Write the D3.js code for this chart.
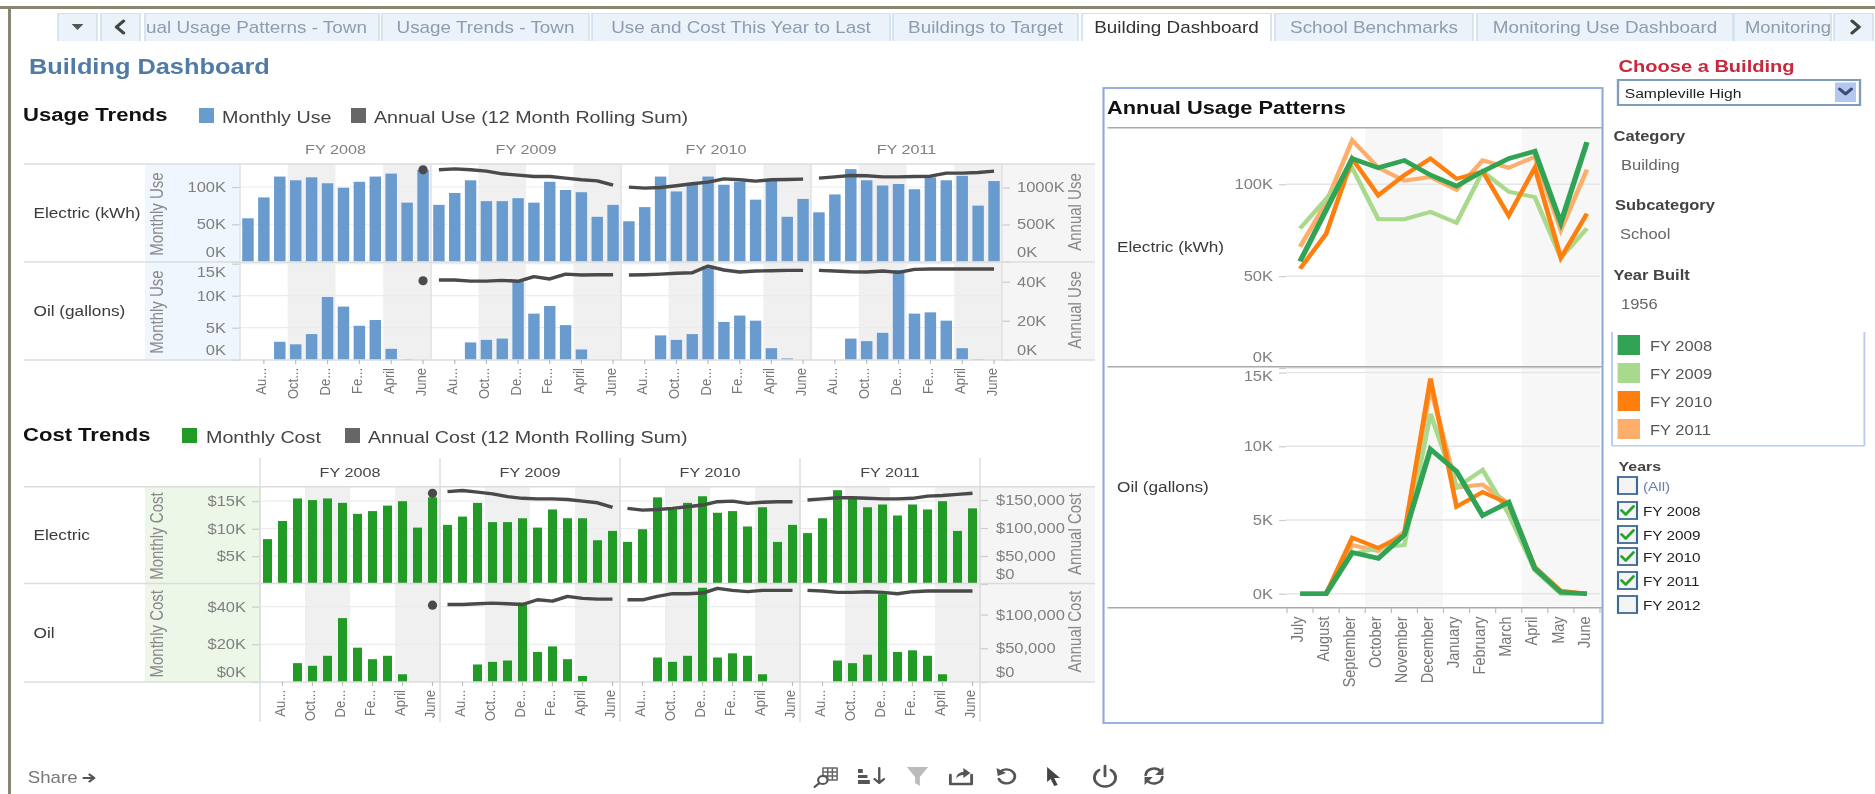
<!DOCTYPE html>
<html><head><meta charset="utf-8"><title>Building Dashboard</title>
<script src="https://cdn.jsdelivr.net/npm/d3@7/dist/d3.min.js"></script>
<style>html,body{margin:0;padding:0;background:#fff;overflow:hidden}svg{display:block;filter:blur(.55px);font-family:"Liberation Sans",Arial,sans-serif}</style>
</head><body><svg id="c" width="1875" height="794"></svg>
<script>
// ---------- data ----------
const fiscalYears = ["FY 2008","FY 2009","FY 2010","FY 2011"];
const monthsFull = ["July","August","September","October","November","December","January","February","March","April","May","June"];
const monthTicks = ["Au...","Oct...","De...","Fe...","April","June"];
const electricUse = [
 [58,86,114,109,113,105,99,107,114,118,79,123],
 [76,92,109,81,81,85,79,107,96,93,60,76],
 [54,73,114,94,105,114,103,107,83,109,60,84],
 [66,90,124,109,102,104,97,113,109,115,75,108]];
const oilUse = [
 [0,0,2.8,2.4,4,9.8,8.3,5.3,6.2,1.7,0.1,0],
 [0,0,2.7,3.1,3.3,12.2,7.2,8.4,5.4,1.6,0,0],
 [0,0,3.8,3.1,4,14.6,5.9,6.9,6.1,1.8,0.2,0],
 [0,0,3.3,2.9,4.2,14,7.2,7.4,6.1,1.8,0.1,0]];
const electricAnnual = [
 [null,null,null,null,null,null,null,null,null,null,null,1239],
 [1239,1252,1239,1221,1185,1167,1149,1149,1126,1104,1090,1032],
 [1005,991,1000,1023,1050,1072,1117,1104,1086,1104,1108,1113],
 [1126,1144,1162,1158,1144,1144,1149,1153,1194,1194,1203,1221]];
const oilAnnual = [
 [null,null,null,null,null,null,null,null,null,null,null,40.5],
 [40.9,40.9,40.3,40.3,40.7,40.2,42.6,41.4,43.9,43.4,43.6,43.6],
 [43.4,43.6,43.9,44.3,44.6,48,46,45,45.5,45.6,45.8,45.8],
 [45.8,45.5,45.1,45,45.5,44.8,46.3,46.5,46.5,46.5,46.5,46.5]];
const electricCost = [
 [8.1,11.4,15.5,15.2,15.5,14.7,12.7,13.2,14.2,15,10.2,15.7],
 [10.7,12.2,14.7,11.2,11.2,11.9,10.2,13.5,11.9,11.9,7.9,9.6],
 [7.6,9.9,15.7,13.5,14.7,15.9,12.9,13.2,10.4,13.9,7.6,10.7],
 [9.2,11.9,17,15.5,13.9,14.4,12.4,14.4,13.5,15,9.6,13.7]];
const oilCost = [
 [0,0,10,8.6,13.9,33.9,18.2,12.1,13.9,4.1,0,0],
 [0,0,9.3,10.7,11.4,42.1,15.9,18.9,12.1,3.2,0,0],
 [0,0,13,10.7,13.9,50,13,15.2,13.9,4.1,0,0],
 [0,0,11.4,10,14.5,46.6,15.9,16.8,13.9,4.1,0,0]];
const electricCostAnnual = [
 [null,null,null,null,null,null,null,null,null,null,null,162000],
 [165000,167000,164000,161000,156000,153000,152000,152000,151000,148000,145000,137000],
 [135000,132000,133000,135000,138000,141000,147000,148000,144000,146000,147000,147000],
 [150000,152000,154000,154000,153000,152000,152000,153000,157000,158000,160000,162000]];
const oilCostAnnual = [
 [null,null,null,null,null,null,null,null,null,null,null,114000],
 [115000,115000,116000,117000,116000,115000,122000,120000,127000,124000,123000,123000],
 [122000,122000,127000,131000,131000,132000,139000,136000,134000,136000,136000,136000],
 [136000,135000,133000,133000,134000,133000,131000,134000,135000,135000,135000,135000]];
const tabLabels = ["Usage Trends - Town","Use and Cost This Year to Last","Buildings to Target","Building Dashboard","School Benchmarks","Monitoring Use Dashboard"];
const yearFilter = ["(All)","FY 2008","FY 2009","FY 2010","FY 2011","FY 2012"];
const yearChecked = [false,true,true,true,true,false];
const yearColors = ["#31a354","#a8d98c","#ff7f0e","#fdae6b"];

// ---------- layout helpers ----------
const K = 1.18;                     // the reference is stretched horizontally
const svg = d3.select("#c");
const defs = svg.append("defs");
const root = svg.append("g").attr("transform",`scale(${K},1)`);
const X = v => v/K;
function T(g,x,y,s,o={}){
  const t=g.append("text").text(s)
    .attr("font-size",o.size||14).attr("fill",o.fill||"#555")
    .attr("font-weight",o.weight||"normal").attr("text-anchor",o.anchor||"start")
    .attr("dy",".36em");
  if(o.rotate) t.attr("transform",`translate(${X(x)},${y}) rotate(-90)`);
  else t.attr("x",X(x)).attr("y",y);
  return t;
}
function R(g,x0,y0,x1,y1,fill,stroke,sw){
  return g.append("rect").attr("x",X(x0)).attr("y",y0).attr("width",X(x1-x0)).attr("height",y1-y0)
    .attr("fill",fill||"none").attr("stroke",stroke||"none").attr("stroke-width",sw||0);
}
function L(g,x0,y0,x1,y1,c,w){
  return g.append("line").attr("x1",X(x0)).attr("y1",y0).attr("x2",X(x1)).attr("y2",y1).attr("stroke",c).attr("stroke-width",w||1);
}

// ---------- frame and tabs ----------
R(root,0,6,1875,9,"#8a8573");
R(root,8,6,11,794,"#8a8573");
const tabs=[[382,589],[592,890],[893,1078],[1082,1271],[1275,1473],[1477,1733]];
const tabG=root.append("g");
function tab(x0,x1,active){
  R(tabG,x0,13,x1,41,active?"#fff":"#ebf2f9");
  L(tabG,x0,13,x0,41,"#d3e1ee",1.5);L(tabG,x1,13,x1,41,"#d3e1ee",1.5);L(tabG,x0,13.5,x1,13.5,"#d3e1ee",1.2);
}
tab(58,97);tab(101,140);tab(145,379);tab(1734,1831);tab(1834,1873);
tabLabels.forEach((s,i)=>{const a=i===3;tab(tabs[i][0],tabs[i][1],a);
  T(tabG,(tabs[i][0]+tabs[i][1])/2,27,s,{size:16,anchor:"middle",fill:a?"#333":"#8d9cb0"});});
T(tabG,146,27,"ual Usage Patterns - Town",{size:16,fill:"#8d9cb0"});
T(tabG,1745,27,"Monitoring",{size:15.6,fill:"#8d9cb0"});
function P(g,x,y,d,fill,stroke,w){return g.append("path").attr("transform",`translate(${X(x)},${y})`).attr("d",d)
  .attr("fill",fill||"none").attr("stroke",stroke||"none").attr("stroke-width",w||0).attr("stroke-linecap","round").attr("stroke-linejoin","round");}
P(tabG,77.5,27,"M-5,-3H5L0,3Z","#555");
P(tabG,120,27,"M3,-6L-3,0L3,6",null,"#444",3);
P(tabG,1855,27,"M-2.5,-6L3.5,0L-2.5,6",null,"#444",3);

// ---------- titles ----------
T(root,29,66,"Building Dashboard",{size:21.5,weight:"bold",fill:"#4f7ba6"});

// ---------- trend panels ----------
function legend(title,y,items){
  T(root,23,y-1,title,{size:18.7,weight:"bold",fill:"#111"});
  items.forEach(it=>{R(root,it.x0,y-7,it.x0+15,y+8,it.c);T(root,it.tx,y+1.5,it.s,{size:16.7,fill:"#444"});});
}
legend("Usage Trends",115,[{x0:199,tx:222,c:"#6a9bce",s:"Monthly Use"},{x0:351,tx:374,c:"#666",s:"Annual Use (12 Month Rolling Sum)"}]);
legend("Cost Trends",435,[{x0:182,tx:206,c:"#219a26",s:"Monthly Cost"},{x0:345,tx:368,c:"#666",s:"Annual Cost (12 Month Rolling Sum)"}]);

function trend(c){
  const g=root.append("g");
  const [p0]=c.panes, pEnd=c.panes[4], [rTop,rMid,rBot]=c.rows;
  R(g,145,rTop,p0,rBot,c.axisBg);
  R(g,pEnd,rTop,1095,rBot,"#f5f5f5");
  fiscalYears.forEach((fy,i)=>{
    const a=c.panes[i],b=c.panes[i+1],st=(b-a)/12;
    R(g,a+3*st,rTop,a+6*st,rBot,"#f0f0f0");
    R(g,a+9*st,rTop,b,rBot,"#f0f0f0");
    T(g,(a+b)/2,c.headerY,fy,{size:13.7,anchor:"middle",fill:c.headerFill});
  });
  c.measures.forEach((m,ri)=>{
    const top=ri?rMid:rTop,bot=ri?rBot:rMid;
    const yL=d3.scaleLinear().domain(m.leftRef[0]).range(m.leftRef[1]);
    const yR=d3.scaleLinear().domain(m.rightRef[0]).range(m.rightRef[1]);
    m.leftTicks.forEach(v=>{if(v>0)L(g,p0,yL(v),pEnd,yL(v),"#ececec",1.2);});
    fiscalYears.forEach((fy,i)=>{
      const a=c.panes[i],b=c.panes[i+1];
      const x=d3.scaleBand().domain(d3.range(12)).range([X(a),X(b)]).paddingInner(c.pad).paddingOuter(c.pad/2);
      g.append("g").selectAll("rect").data(m.values[i]).join("rect")
        .attr("x",(d,j)=>x(j)).attr("width",x.bandwidth())
        .attr("y",d=>yL(d)).attr("height",d=>Math.max(0,yL(0)-yL(d))).attr("fill",c.bar);
      const line=d3.line().defined(d=>d!==null).x((d,j)=>x(j)+x.bandwidth()/2).y(d=>yR(d));
      const pts=m.annual[i];
      if(pts.filter(d=>d!==null).length>1)
        g.append("path").attr("d",line(pts)).attr("fill","none").attr("stroke","#4a4a4a").attr("stroke-width",3.4).attr("stroke-linejoin","round");
      else g.selectAll(null).data(pts.map((d,j)=>[d,j]).filter(d=>d[0]!==null)).join("ellipse")
        .attr("cx",d=>x(d[1])+x.bandwidth()/2).attr("cy",d=>yR(d[0])).attr("rx",3.9).attr("ry",4.6).attr("fill","#4a4a4a");
    });
    const axL=g.append("g").attr("transform",`translate(${X(p0)},0)`)
      .call(d3.axisLeft(yL).tickValues(m.leftTicks).tickFormat(m.leftFmt).tickSize(8/K).tickPadding(c.leftPad/K));
    const axR=g.append("g").attr("transform",`translate(${X(pEnd)},0)`)
      .call(d3.axisRight(yR).tickValues(m.rightTicks).tickFormat(m.rightFmt).tickSize(8/K).tickPadding(c.rightPad/K));
    [[axL,m.leftNudge||{}],[axR,m.rightNudge||{}]].forEach(([ax,n])=>{
      ax.select(".domain").remove();
      ax.selectAll("line").attr("stroke","#ccc").attr("stroke-width",1.2);
      ax.selectAll("text").attr("font-size",14).attr("font-family",null).attr("fill","#808080")
        .attr("dy",d=>(0.32+(n[d]||0)/14)+"em");
    });
    T(g,157,(top+bot)/2+1,c.monthlyLabel,{size:15,rotate:true,anchor:"middle",fill:"#888"});
    T(g,1075,(top+bot)/2-1,c.annualLabel,{size:15,rotate:true,anchor:"middle",fill:"#888"});
    T(g,33.5,m.labelY,m.label,{size:14.6,fill:"#3a3a3a"});
  });
  c.rows.forEach(y=>L(g,24,y,1095,y,"#dcdcdc",1.6));
  c.panes.forEach(x=>L(g,x,rTop,x,rBot,"#e0e0e0",1.2));
  if(c.extendDividers) c.panes.forEach(x=>L(g,x,c.headerY-14,x,c.tickEnd,"#dedede",1.2));
  fiscalYears.forEach((fy,i)=>{
    const a=c.panes[i],b=c.panes[i+1];
    const x=d3.scaleBand().domain(d3.range(12)).range([X(a),X(b)]);
    monthTicks.forEach((s,k)=>{
      const j=k*2+1,cx=(x(j)+x.bandwidth()/2)*K;
      L(g,cx,rBot,cx,rBot+4,"#bbb",1);
      T(g,cx-3,rBot+8,s,{size:13,rotate:true,anchor:"end",fill:"#777"});
    });
  });
}
const kFmt=d=>d+"K", dKFmt=d=>"$"+d+"K", dFmt=d3.format("$,");
trend({panes:[240,431,621,811,1002],rows:[164,262,360],headerY:149,headerFill:"#808080",axisBg:"#eff6fd",bar:"#6a9bce",pad:.28,
  leftPad:6,rightPad:7,monthlyLabel:"Monthly Use",annualLabel:"Annual Use",measures:[
  {label:"Electric (kWh)",labelY:212.7,values:electricUse,annual:electricAnnual,
   leftRef:[[0,100],[261.5,187]],rightRef:[[0,1000],[261.5,187.5]],leftTicks:[0,50,100],rightTicks:[0,500,1000],
   leftFmt:kFmt,rightFmt:kFmt,leftNudge:{0:-9.5},rightNudge:{0:-9.5}},
  {label:"Oil (gallons)",labelY:311,values:oilUse,annual:oilAnnual,
   leftRef:[[0,5],[359.7,327.7]],rightRef:[[0,20],[359.7,320.7]],leftTicks:[0,5,10,15],rightTicks:[0,20,40],
   leftFmt:kFmt,rightFmt:kFmt,leftNudge:{0:-9.5,15:8.5},rightNudge:{0:-9.5}}]});
trend({panes:[260,440,620,800,980],rows:[486.7,583.5,682],headerY:472,headerFill:"#444",axisBg:"#edf7e8",bar:"#219a26",pad:.4,
  leftPad:6,rightPad:8,extendDividers:true,tickEnd:722,monthlyLabel:"Monthly Cost",annualLabel:"Annual Cost",measures:[
  {label:"Electric",labelY:535,values:electricCost,annual:electricCostAnnual,
   leftRef:[[0,5],[583.7,556.2]],rightRef:[[0,50000],[584,556]],leftTicks:[5,10,15],rightTicks:[0,50000,100000,150000],
   leftFmt:dKFmt,rightFmt:dFmt,rightNudge:{0:-10}},
  {label:"Oil",labelY:632.7,values:oilCost,annual:oilCostAnnual,
   leftRef:[[0,20],[682,644.3]],rightRef:[[0,50000],[682,648.3]],leftTicks:[0,20,40],rightTicks:[0,50000,100000],
   leftFmt:dKFmt,rightFmt:dFmt,leftNudge:{0:-10},rightNudge:{0:-10}}]});

// ---------- annual usage patterns ----------
const pg=root.append("g");
const lx=d3.scaleBand().domain(d3.range(12)).range([X(1287),X(1600)]);
R(pg,1365,128,1443,607.5,"#f7f7f7");
R(pg,1522,128,1600,607.5,"#f7f7f7");
const drawOrder=[3,1,2,0];
function patterns(vals,ref,ticks,nudge,label,labelY){
  const y=d3.scaleLinear().domain(ref[0]).range(ref[1]);
  ticks.forEach(v=>L(pg,1286,y(v),1600,y(v),"#e6e6e6",1.5));
  const ax=pg.append("g").attr("transform",`translate(${X(1286)},0)`)
    .call(d3.axisLeft(y).tickValues(ticks).tickFormat(kFmt).tickSize(7/K).tickPadding(6/K));
  ax.select(".domain").remove();
  ax.selectAll("line").attr("stroke","#ccc").attr("stroke-width",1.2);
  ax.selectAll("text").attr("font-size",14).attr("font-family",null).attr("fill","#808080").attr("dy",d=>(.32+(nudge[d]||0)/14)+"em");
  const line=d3.line().x((d,j)=>lx(j)+lx.bandwidth()/2).y(d=>y(d));
  drawOrder.forEach(i=>pg.append("path").attr("d",line(vals[i])).attr("fill","none")
    .attr("stroke",yearColors[i]).attr("stroke-width",i===0?4.6:4).attr("stroke-linejoin","miter"));
  T(pg,1117,labelY,label,{size:14.6,fill:"#3a3a3a"});
}
patterns(electricUse,[[0,100],[368,184.3]],[0,50,100],{0:-11},"Electric (kWh)",246.7);
patterns(oilUse,[[0,5],[593.7,520]],[0,5,10,15],{15:3},"Oil (gallons)",487);
R(pg,1103.5,88,1602.5,723,null,"#8fa9dc",1.8);
T(pg,1107,107,"Annual Usage Patterns",{size:18.5,weight:"bold",fill:"#111"});
L(pg,1107.5,127.7,1602,127.7,"#aaa",1.5);
L(pg,1107.5,366.7,1602,366.7,"#aaa",1.5);
L(pg,1107.5,607.7,1602,607.7,"#aaa",1.5);
d3.range(13).forEach(i=>{const px=lx.step()*i*K+1287;L(pg,px,607.7,px,613,"#bbb",1);});
monthsFull.forEach((m,i)=>T(pg,(lx(i)+lx.bandwidth()/2)*K-3.5,616.5,m,{size:14.5,rotate:true,anchor:"end",fill:"#777"}));

// ---------- right column ----------
const rg=root.append("g");
T(rg,1618.6,65.7,"Choose a Building",{size:17,weight:"bold",fill:"#c8283c"});
R(rg,1618,80,1860,105,"#fff","#7f9db9",2);
T(rg,1624.7,93.3,"Sampleville High",{size:13.3,fill:"#222"});
R(rg,1835,82.5,1856,102,"#b4c7ee");
P(rg,1845.5,92,"M-5,-3L0,2L5,-3",null,"#3c4a7a",2.8);
[["Category",135.7,1613.6,"Building",165,1621],["Subcategory",205,1615,"School",234,1620],["Year Built",275,1613.6,"1956",304,1621]]
 .forEach(d=>{T(rg,d[2],d[1],d[0],{size:14,weight:"bold",fill:"#444"});T(rg,d[5],d[4],d[3],{size:14,fill:"#666"});});
L(rg,1612,332,1612,445.7,"#b8cbf2",1.6);L(rg,1864.4,332,1864.4,445.7,"#b8cbf2",1.6);L(rg,1612,445.7,1864.4,445.7,"#b8cbf2",1.6);
fiscalYears.forEach((fy,i)=>{const y=335+i*28;R(rg,1617.6,y,1640,y+20,yearColors[i]);T(rg,1650,y+11,fy,{size:14,fill:"#555"});});
T(rg,1618.6,465.7,"Years",{size:13.5,weight:"bold",fill:"#444"});
const boxTops=[477,502,526,548,572,596];
yearFilter.forEach((s,i)=>{const y=boxTops[i];
  R(rg,1618,y,1637,y+17,"#f4f4f4","#3d6a94",1.8);
  if(yearChecked[i]) P(rg,1627.5,y+8.5,"M-5,0L-1.5,4L5,-4",null,"#2ca02c",2.6);
  T(rg,1643,y+9,s,{size:13,fill:i?"#222":"#6a7fa8"});});

// ---------- footer ----------
const fg=root.append("g");
T(fg,27.8,777.7,"Share",{size:15.8,fill:"#777"});
P(fg,89.5,778,"M-5,0H3M0,-3.5L4,0L0,3.5",null,"#555",2);
const ic="#555";
P(fg,826.5,776,"M-3,-8H9V4H-3ZM-3,-4H9M-3,0H9M1,-8V4M5,-8V4",null,"#666",1.3);
P(fg,824,780,"M3,0A4,4 0 1 1 -5,0A4,4 0 1 1 3,0M-4,3L-8,7",null,ic,1.8).attr("fill","#fff");
P(fg,871,776,"M-11,-7H-7V-3H-11ZM-11,-1H-3V2H-11ZM-11,4H-1V8H-11Z",ic);
P(fg,871,776,"M7,-8V6M3,3L7,7L11,3",null,ic,2);
P(fg,917.5,776,"M-9,-9H9L2,1V10L-2,7V1Z","#bbb");
P(fg,961,776,"M-9,-1V8H9V-1",null,ic,2.4);
P(fg,961,776,"M-4,3C-4,-2 -1,-4 2,-4V-8L8,-3L2,2V-1C0,-1 -3,0 -4,3Z",ic);
P(fg,1006,776,"M-5,-4A7,7 0 1 1 -6,3",null,ic,2.4);
P(fg,1006,776,"M-8,-8L-7,0L0,-3Z",ic);
P(fg,1053,776,"M-5,-9L6,2H1L4,9L1,10L-2,3L-5,6Z","#444");
P(fg,1105,776,"M-5,-6A9,9 0 1 0 5,-6M0,-10V0",null,ic,2.4);
P(fg,1154,776,"M-7,-1A7,7 0 0 1 6,-4M7,1A7,7 0 0 1 -6,4",null,ic,2.4);
P(fg,1154,776,"M8,-9V-1H1ZM-8,9V1H-1Z",ic);
</script></body></html>
